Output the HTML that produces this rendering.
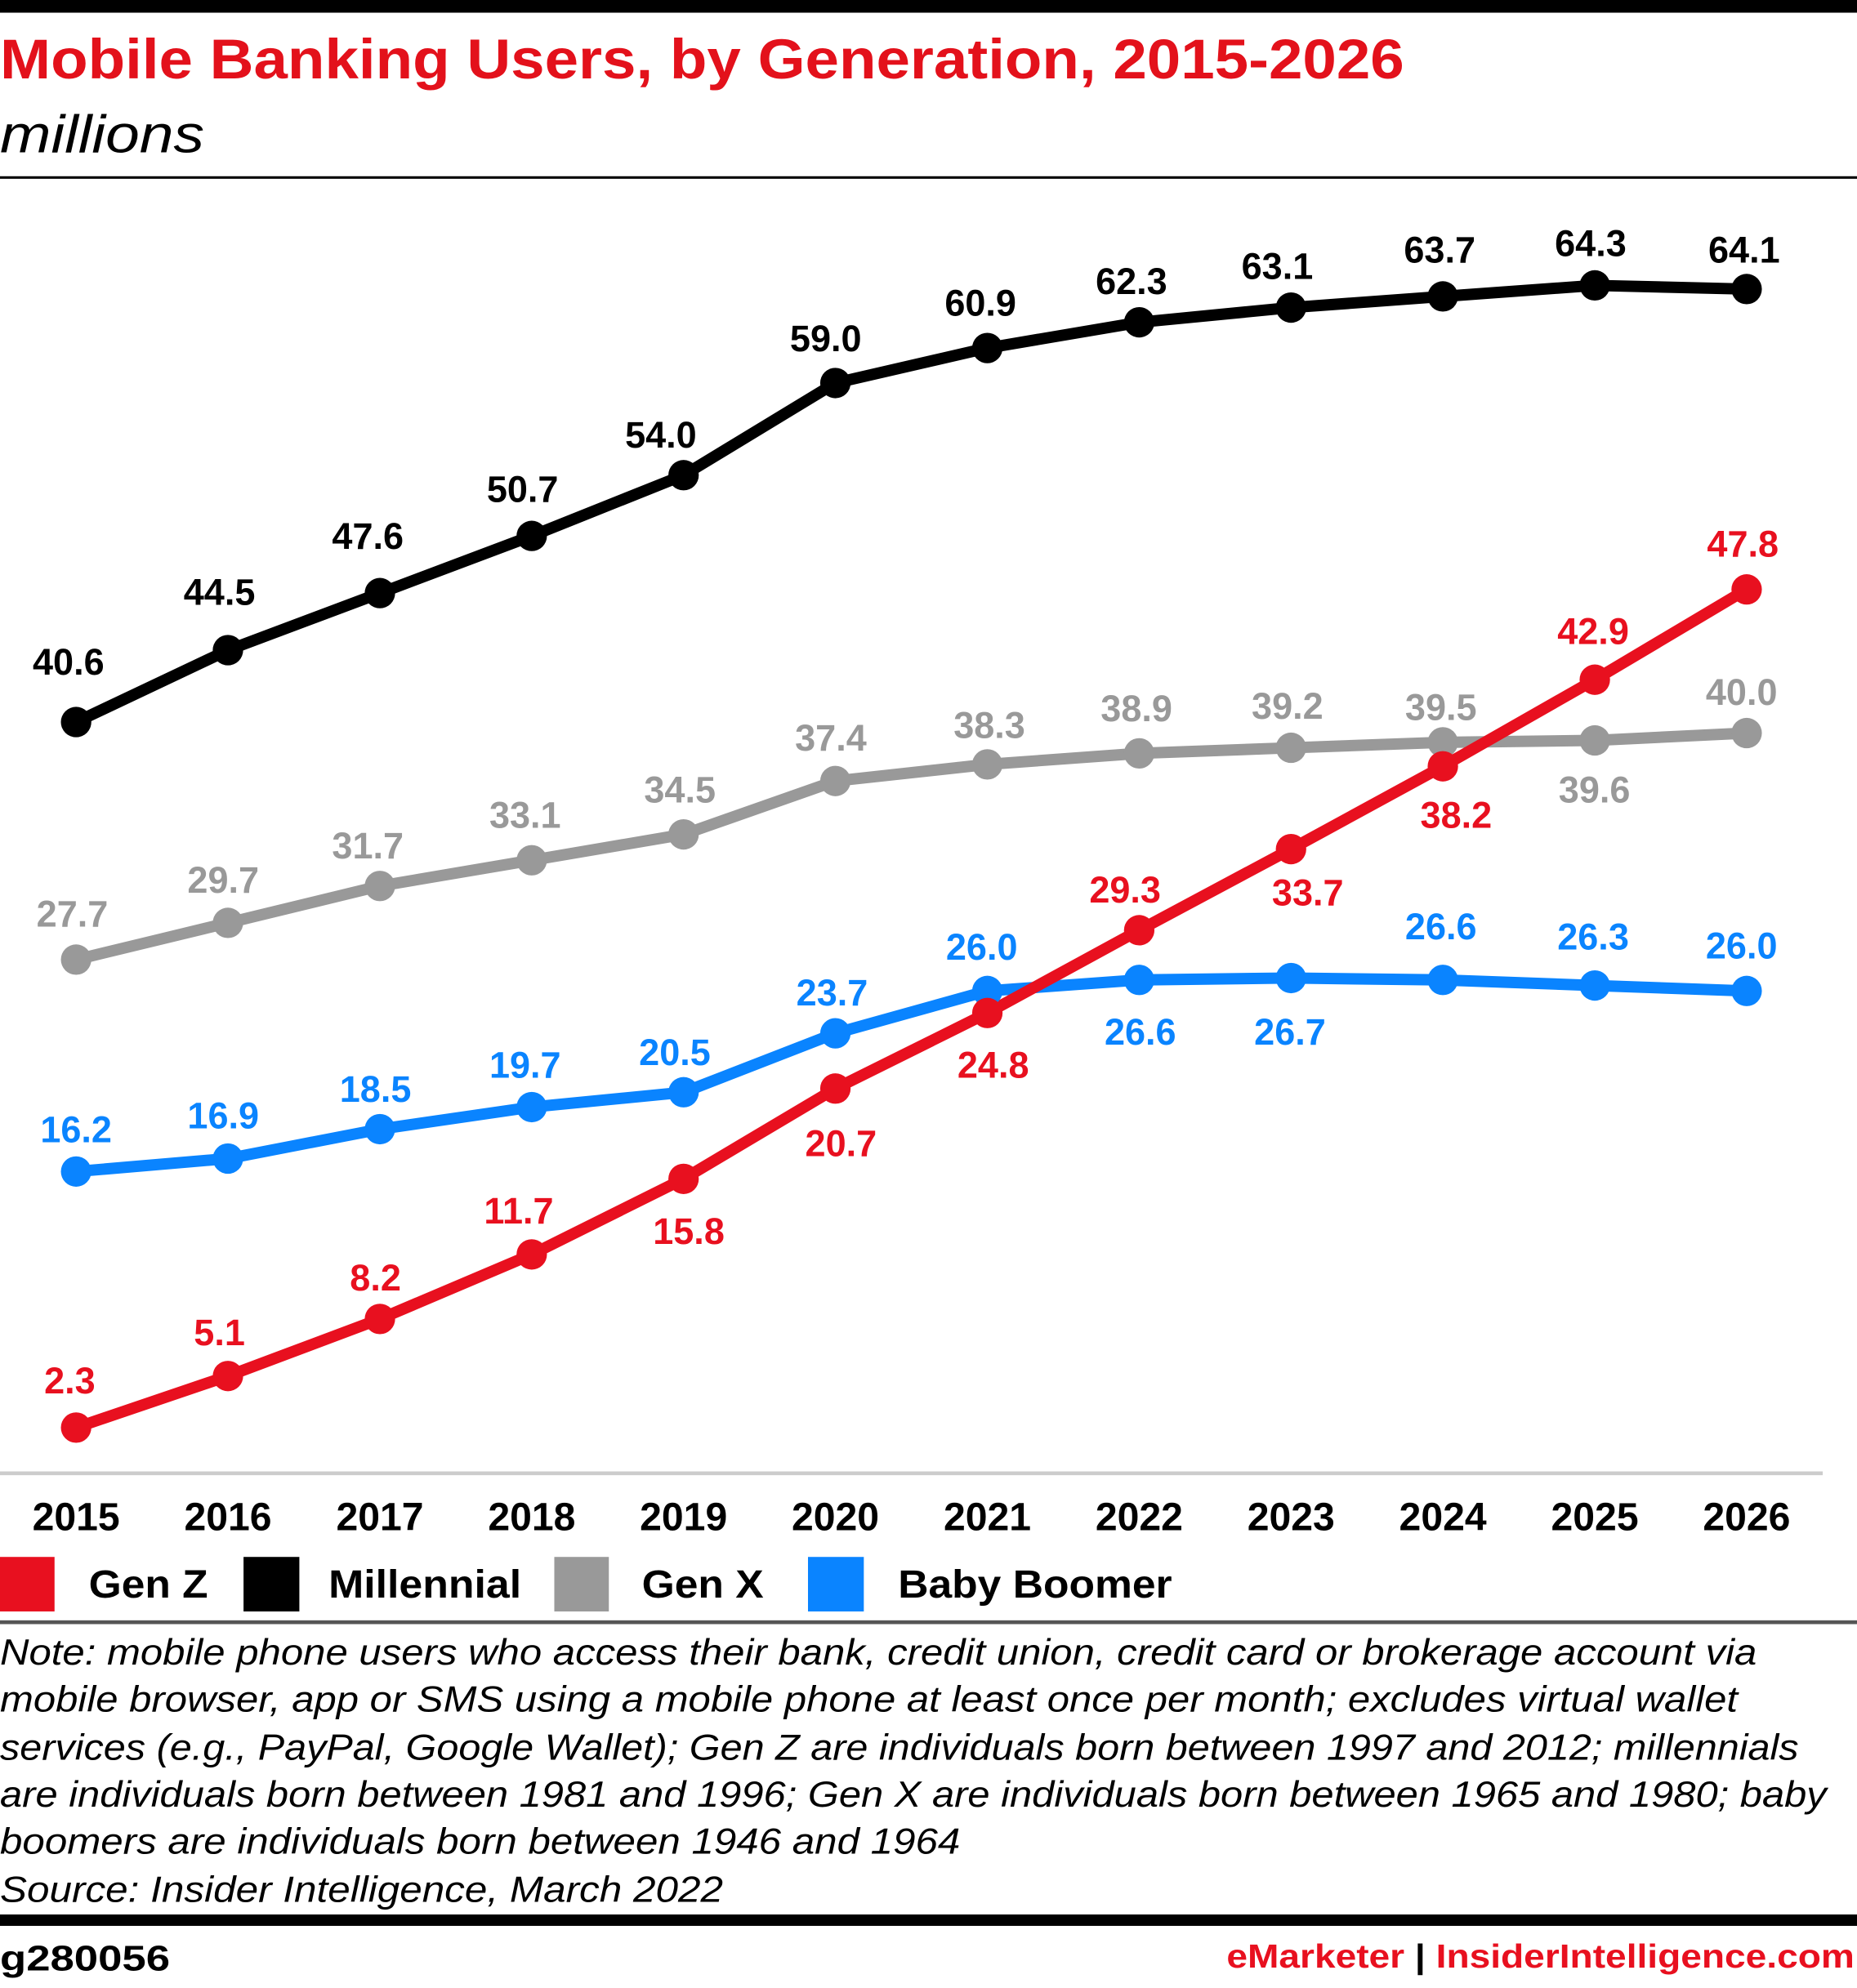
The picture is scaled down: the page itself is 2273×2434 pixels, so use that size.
<!DOCTYPE html>
<html><head><meta charset="utf-8"><style>
html,body{margin:0;padding:0;background:#fff;}
svg{display:block;}
text{font-family:"Liberation Sans",sans-serif;}
</style></head><body>
<svg width="2273" height="2434" viewBox="0 0 1464 1568" preserveAspectRatio="none" xmlns="http://www.w3.org/2000/svg">
<rect x="0" y="0" width="1464" height="10" fill="#000"/>
<text x="0" y="62" font-size="44" font-weight="bold" fill="#e3111b" textLength="1107" lengthAdjust="spacingAndGlyphs">Mobile Banking Users, by Generation, 2015-2026</text>
<text x="0" y="120" font-size="42" font-style="italic" fill="#000" textLength="161" lengthAdjust="spacingAndGlyphs">millions</text>
<rect x="0" y="139" width="1464" height="2" fill="#000"/>
<line x1="0" y1="1162" x2="1437" y2="1162" stroke="#ccc" stroke-width="3"/>

<g fill="none" stroke-width="9" stroke-linejoin="round">
<polyline stroke="#999" points="60,756.9 179.7,727.9 299.5,698.8 419.2,678.5 538.9,658.1 658.6,616 778.4,602.9 898.1,594.2 1017.8,589.8 1137.5,585.5 1257.3,584 1377,578.2"/>
<polyline stroke="#0a84ff" points="60,924 179.7,913.8 299.5,890.6 419.2,873.2 538.9,861.5 658.6,815 778.4,781.6 898.1,772.9 1017.8,771.4 1137.5,772.9 1257.3,777.3 1377,781.6"/>
<polyline stroke="#000" points="60,569.5 179.7,512.8 299.5,467.8 419.2,422.7 538.9,374.8 658.6,302.1 778.4,274.5 898.1,254.2 1017.8,242.6 1137.5,233.8 1257.3,225.1 1377,228"/>
<polyline stroke="#e8101f" points="60,1126 179.7,1085.3 299.5,1040.3 419.2,989.4 538.9,929.8 658.6,858.6 778.4,799 898.1,733.7 1017.8,669.7 1137.5,604.4 1257.3,536.1 1377,464.9"/>
</g>
<g fill="#999">
<circle cx="60" cy="756.9" r="12"/><circle cx="179.7" cy="727.9" r="12"/><circle cx="299.5" cy="698.8" r="12"/><circle cx="419.2" cy="678.5" r="12"/><circle cx="538.9" cy="658.1" r="12"/><circle cx="658.6" cy="616" r="12"/><circle cx="778.4" cy="602.9" r="12"/><circle cx="898.1" cy="594.2" r="12"/><circle cx="1017.8" cy="589.8" r="12"/><circle cx="1137.5" cy="585.5" r="12"/><circle cx="1257.3" cy="584" r="12"/><circle cx="1377" cy="578.2" r="12"/>
</g>
<g fill="#0a84ff">
<circle cx="60" cy="924" r="12"/><circle cx="179.7" cy="913.8" r="12"/><circle cx="299.5" cy="890.6" r="12"/><circle cx="419.2" cy="873.2" r="12"/><circle cx="538.9" cy="861.5" r="12"/><circle cx="658.6" cy="815" r="12"/><circle cx="778.4" cy="781.6" r="12"/><circle cx="898.1" cy="772.9" r="12"/><circle cx="1017.8" cy="771.4" r="12"/><circle cx="1137.5" cy="772.9" r="12"/><circle cx="1257.3" cy="777.3" r="12"/><circle cx="1377" cy="781.6" r="12"/>
</g>
<g fill="#000">
<circle cx="60" cy="569.5" r="12"/><circle cx="179.7" cy="512.8" r="12"/><circle cx="299.5" cy="467.8" r="12"/><circle cx="419.2" cy="422.7" r="12"/><circle cx="538.9" cy="374.8" r="12"/><circle cx="658.6" cy="302.1" r="12"/><circle cx="778.4" cy="274.5" r="12"/><circle cx="898.1" cy="254.2" r="12"/><circle cx="1017.8" cy="242.6" r="12"/><circle cx="1137.5" cy="233.8" r="12"/><circle cx="1257.3" cy="225.1" r="12"/><circle cx="1377" cy="228" r="12"/>
</g>
<g fill="#e8101f">
<circle cx="60" cy="1126" r="12"/><circle cx="179.7" cy="1085.3" r="12"/><circle cx="299.5" cy="1040.3" r="12"/><circle cx="419.2" cy="989.4" r="12"/><circle cx="538.9" cy="929.8" r="12"/><circle cx="658.6" cy="858.6" r="12"/><circle cx="778.4" cy="799" r="12"/><circle cx="898.1" cy="733.7" r="12"/><circle cx="1017.8" cy="669.7" r="12"/><circle cx="1137.5" cy="604.4" r="12"/><circle cx="1257.3" cy="536.1" r="12"/><circle cx="1377" cy="464.9" r="12"/>
</g>

<g font-size="29" font-weight="bold" text-anchor="middle" fill="#000">
<text x="54" y="532">40.6</text><text x="173" y="477">44.5</text><text x="290" y="433">47.6</text><text x="412" y="396">50.7</text><text x="521" y="353">54.0</text><text x="651" y="277">59.0</text><text x="773" y="249">60.9</text><text x="892" y="232">62.3</text><text x="1007" y="220">63.1</text><text x="1135" y="207">63.7</text><text x="1254" y="202">64.3</text><text x="1375" y="207">64.1</text>
</g>
<g font-size="29" font-weight="bold" text-anchor="middle" fill="#999">
<text x="57" y="731">27.7</text><text x="176" y="704">29.7</text><text x="290" y="677">31.7</text><text x="414" y="653">33.1</text><text x="536" y="633">34.5</text><text x="655" y="592">37.4</text><text x="780" y="582">38.3</text><text x="896" y="569">38.9</text><text x="1015" y="567">39.2</text><text x="1136" y="568">39.5</text><text x="1257" y="633">39.6</text><text x="1373" y="556">40.0</text>
</g>
<g font-size="29" font-weight="bold" text-anchor="middle" fill="#0a84ff">
<text x="60" y="901">16.2</text><text x="176" y="890">16.9</text><text x="296" y="869">18.5</text><text x="414" y="850">19.7</text><text x="532" y="840">20.5</text><text x="656" y="793">23.7</text><text x="774" y="757">26.0</text><text x="899" y="824">26.6</text><text x="1017" y="824">26.7</text><text x="1136" y="741">26.6</text><text x="1256" y="749">26.3</text><text x="1373" y="756">26.0</text>
</g>
<g font-size="29" font-weight="bold" text-anchor="middle" fill="#e8101f">
<text x="55" y="1099">2.3</text><text x="173" y="1061">5.1</text><text x="296" y="1018">8.2</text><text x="409" y="965">11.7</text><text x="543" y="981">15.8</text><text x="663" y="912">20.7</text><text x="783" y="850">24.8</text><text x="887" y="712">29.3</text><text x="1031" y="714">33.7</text><text x="1148" y="653">38.2</text><text x="1256" y="508">42.9</text><text x="1374" y="439">47.8</text>
</g>

<g font-size="31" font-weight="bold" text-anchor="middle" fill="#000">
<text x="60" y="1207">2015</text><text x="179.7" y="1207">2016</text><text x="299.5" y="1207">2017</text><text x="419.2" y="1207">2018</text><text x="538.9" y="1207">2019</text><text x="658.6" y="1207">2020</text><text x="778.4" y="1207">2021</text><text x="898.1" y="1207">2022</text><text x="1017.8" y="1207">2023</text><text x="1137.5" y="1207">2024</text><text x="1257.3" y="1207">2025</text><text x="1377" y="1207">2026</text>
</g>

<rect x="0" y="1228" width="43" height="43" fill="#e8101f"/>
<rect x="192" y="1228" width="44" height="43" fill="#000"/>
<rect x="437" y="1228" width="43" height="43" fill="#999"/>
<rect x="637" y="1228" width="44" height="43" fill="#0a84ff"/>
<g font-size="31" font-weight="bold" fill="#000" lengthAdjust="spacingAndGlyphs">
<text x="70" y="1260" textLength="94" lengthAdjust="spacingAndGlyphs">Gen Z</text><text x="259" y="1260" textLength="152" lengthAdjust="spacingAndGlyphs">Millennial</text><text x="506" y="1260" textLength="96" lengthAdjust="spacingAndGlyphs">Gen X</text><text x="708" y="1260" textLength="216" lengthAdjust="spacingAndGlyphs">Baby Boomer</text>
</g>
<rect x="0" y="1278" width="1464" height="3" fill="#555"/>
<g font-size="28.5" font-style="italic" fill="#000">
<text x="0" y="1313" textLength="1385" lengthAdjust="spacingAndGlyphs">Note: mobile phone users who access their bank, credit union, credit card or brokerage account via</text>
<text x="0" y="1350" textLength="1370" lengthAdjust="spacingAndGlyphs">mobile browser, app or SMS using a mobile phone at least once per month; excludes virtual wallet</text>
<text x="0" y="1388" textLength="1418" lengthAdjust="spacingAndGlyphs">services (e.g., PayPal, Google Wallet); Gen Z are individuals born between 1997 and 2012; millennials</text>
<text x="0" y="1425" textLength="1440" lengthAdjust="spacingAndGlyphs">are individuals born between 1981 and 1996; Gen X are individuals born between 1965 and 1980; baby</text>
<text x="0" y="1462" textLength="757" lengthAdjust="spacingAndGlyphs">boomers are individuals born between 1946 and 1964</text>
<text x="0" y="1500" textLength="570" lengthAdjust="spacingAndGlyphs">Source: Insider Intelligence, March 2022</text>
</g>
<rect x="0" y="1510" width="1464" height="9" fill="#000"/>
<text x="0" y="1554" font-size="28" font-weight="bold" fill="#000" textLength="134" lengthAdjust="spacingAndGlyphs">g280056</text>
<text x="967" y="1552" font-size="26" font-weight="bold" textLength="495" lengthAdjust="spacingAndGlyphs"><tspan fill="#e8101f">eMarketer</tspan><tspan fill="#000">  |  </tspan><tspan fill="#e8101f">InsiderIntelligence.com</tspan></text>
</svg>
</body></html>
